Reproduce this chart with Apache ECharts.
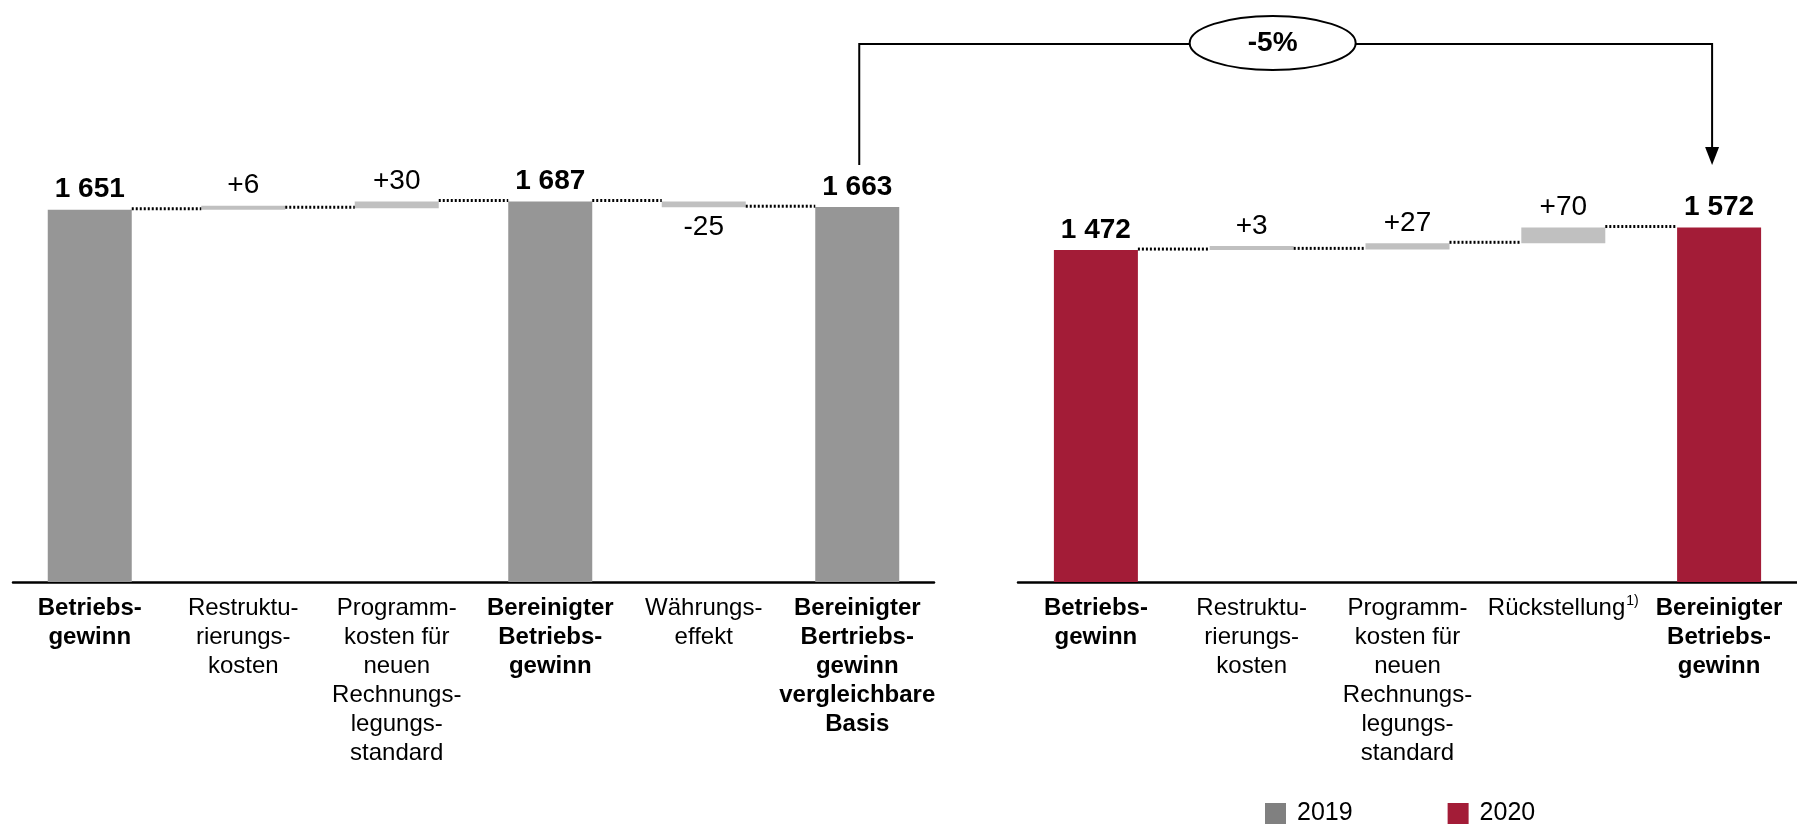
<!DOCTYPE html>
<html>
<head>
<meta charset="utf-8">
<script src="https://cdn.jsdelivr.net/npm/echarts@6/dist/echarts.min.js"></script>
<style>
  html, body { margin: 0; padding: 0; background: #fff; }
  #chart { width: 1797px; height: 829px; }
</style>
</head>
<body>
<div id="chart"></div>
<script>
// 2019 waterfall
const leftCategories = ['Betriebs-\ngewinn', 'Restruktu-\nrierungs-\nkosten', 'Programm-\nkosten für\nneuen\nRechnungs-\nlegungs-\nstandard', 'Bereinigter\nBetriebs-\ngewinn', 'Währungs-\neffekt', 'Bereinigter\nBertriebs-\ngewinn\nvergleichbare\nBasis'];
const leftTotals = [1651, null, null, 1687, null, 1663];
const leftDeltas = [null, 6, 30, null, -25, null];

// 2020 waterfall
const rightCategories = ['Betriebs-\ngewinn', 'Restruktu-\nrierungs-\nkosten', 'Programm-\nkosten für\nneuen\nRechnungs-\nlegungs-\nstandard', 'Rückstellung', 'Bereinigter\nBetriebs-\ngewinn'];
const rightTotals = [1472, null, null, null, 1572];
const rightDeltas = [null, 3, 27, 70, null];
const footnoteCategory = 'Rückstellung';

const changeLabel = '-5%';
const years = ['2019', '2020'];

const FONT = "'Liberation Sans', Arial, sans-serif";
const GREY = '#969696';
const RED = '#a31c37';
const FLOAT = '#c0c0c0';
const BAR_W = 84;

function fmt(v) {
  return String(v).replace(/\B(?=(\d{3})+(?!\d))/g, ' ');
}

// turns totals + deltas into stacked series data
function waterfall(totals, deltas) {
  let run = 0;
  const base = [], tot = [], flt = [], steps = [];
  for (let i = 0; i < totals.length; i++) {
    if (totals[i] != null) {
      run = totals[i];
      base.push(0);
      tot.push(totals[i]);
      flt.push('-');
    } else {
      const d = deltas[i];
      base.push(d >= 0 ? run : run + d);
      tot.push('-');
      flt.push({ value: Math.abs(d), delta: d, label: { position: d < 0 ? 'bottom' : 'top' } });
      run += d;
    }
    if (i < totals.length - 1) steps.push([i, run]);
  }
  return { base, tot, flt, steps };
}

const L = waterfall(leftTotals, leftDeltas);
const R = waterfall(rightTotals, rightDeltas);

function cats(list, totals) {
  return list.map((c, i) => totals[i] != null ? { value: c, textStyle: { fontWeight: 'bold' } } : c);
}

function connector(params, api) {
  const p = api.coord([api.value(0), api.value(1)]);
  const band = api.size([1, 0])[0];
  return {
    type: 'line',
    shape: { x1: p[0] + BAR_W / 2, y1: p[1] - 1, x2: p[0] + band - BAR_W / 2, y2: p[1] - 1 },
    style: { stroke: '#000', lineWidth: 3, lineDash: [2, 2] }
  };
}

function seriesFor(idx, w, name, color) {
  const stack = 's' + idx;
  return [
    {
      type: 'bar', xAxisIndex: idx, yAxisIndex: idx, stack: stack, barWidth: BAR_W,
      itemStyle: { color: 'transparent' }, silent: true, data: w.base
    },
    {
      type: 'bar', name: name, xAxisIndex: idx, yAxisIndex: idx, stack: stack, barWidth: BAR_W,
      itemStyle: { color: color },
      label: {
        show: true, position: 'top', distance: 6, fontFamily: FONT, fontSize: 28,
        fontWeight: 'bold', color: '#000', formatter: (p) => fmt(p.value)
      },
      data: w.tot
    },
    {
      type: 'bar', xAxisIndex: idx, yAxisIndex: idx, stack: stack, barWidth: BAR_W,
      barMinHeight: 4,
      itemStyle: { color: FLOAT },
      label: {
        show: true, position: 'top', distance: 6, fontFamily: FONT, fontSize: 28,
        color: '#000', formatter: (p) => (p.data.delta > 0 ? '+' : '') + p.data.delta
      },
      data: w.flt
    },
    {
      type: 'custom', xAxisIndex: idx, yAxisIndex: idx, renderItem: connector,
      encode: { x: 0, y: 1 }, silent: true, z: 5, data: w.steps
    }
  ];
}

const axisLabel = {
  interval: 0, margin: 12, fontFamily: FONT, fontSize: 24, lineHeight: 29, color: '#000'
};

const chart = echarts.init(document.getElementById('chart'));
chart.setOption({
  animation: false,
  textStyle: { fontFamily: FONT },
  grid: [
    { left: 13, width: 921, top: 131, bottom: 247 },
    { left: 1018, width: 779, top: 131, bottom: 247 }
  ],
  xAxis: [
    {
      type: 'category', gridIndex: 0, data: cats(leftCategories, leftTotals),
      axisTick: { show: false }, axisLine: { lineStyle: { color: '#000', width: 2.5 } },
      axisLabel: axisLabel
    },
    {
      type: 'category', gridIndex: 1, data: cats(rightCategories, rightTotals),
      axisTick: { show: false }, axisLine: { lineStyle: { color: '#000', width: 2.5 } },
      axisLabel: Object.assign({}, axisLabel, {
        formatter: (v) => v === footnoteCategory ? v + '{sup|1)}' : v,
        rich: { sup: { fontFamily: FONT, fontSize: 14, color: '#000', verticalAlign: 'top', padding: [0, 0, 0, 1] } }
      })
    }
  ],
  yAxis: [
    { type: 'value', gridIndex: 0, min: 0, max: 2000, show: false, splitLine: { show: false } },
    { type: 'value', gridIndex: 1, min: 0, max: 2000, show: false, splitLine: { show: false } }
  ],
  legend: {
    left: 1260, top: 796, icon: 'rect', itemWidth: 21, itemHeight: 21, itemGap: 95,
    selectedMode: false,
    textStyle: { fontFamily: FONT, fontSize: 25, color: '#000', padding: [2, 0, 0, 6] },
    data: [
      { name: years[0], itemStyle: { color: '#808080' } },
      { name: years[1], itemStyle: { color: RED } }
    ]
  },
  series: seriesFor(0, L, years[0], GREY).concat(seriesFor(1, R, years[1], RED))
});

// bracket showing the change between the two comparable totals
const last0 = leftTotals.length - 1;
const last1 = rightTotals.length - 1;
const pL = chart.convertToPixel({ xAxisIndex: 0, yAxisIndex: 0 }, [last0, leftTotals[last0]]);
const pR = chart.convertToPixel({ xAxisIndex: 1, yAxisIndex: 1 }, [last1, rightTotals[last1]]);
const topY = 44;
const endY = Math.min(pL[1], pR[1]) - 42;
const xL = pL[0] + 2;
const xR = pR[0] - 7;
const cx = (xL + xR) / 2 - 13;
const rx = 83, ry = 27;
const line = { stroke: '#000', lineWidth: 2, fill: null };

chart.setOption({
  graphic: [
    { type: 'polyline', shape: { points: [[xL, endY], [xL, topY], [cx - rx, topY]] }, style: line },
    { type: 'polyline', shape: { points: [[cx + rx, topY], [xR, topY], [xR, endY - 16]] }, style: line },
    { type: 'polygon', shape: { points: [[xR - 7, endY - 18], [xR + 7, endY - 18], [xR, endY]] }, style: { fill: '#000' } },
    { type: 'ellipse', shape: { cx: cx, cy: topY - 1, rx: rx, ry: ry }, style: { fill: '#fff', stroke: '#000', lineWidth: 2 } },
    {
      type: 'text', x: cx, y: topY - 1,
      style: { text: changeLabel, fontFamily: FONT, fontSize: 28, fontWeight: 'bold', fill: '#000', align: 'center', verticalAlign: 'middle' }
    }
  ]
});
</script>
</body>
</html>
